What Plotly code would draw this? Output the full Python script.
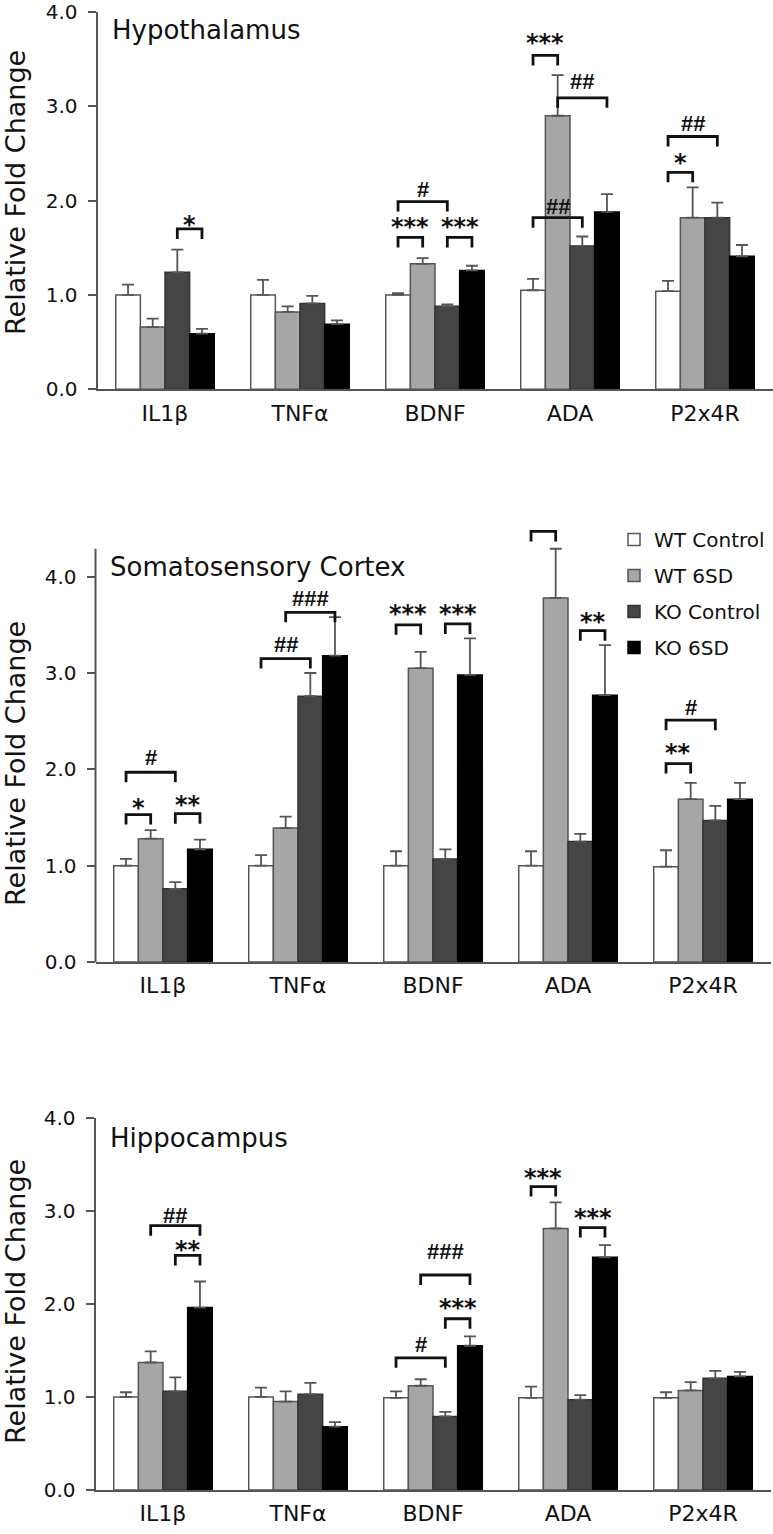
import plotly.graph_objects as go

# ---------------- data ----------------
categories = ["IL1β", "TNFα", "BDNF", "ADA", "P2x4R"]
groups = ["WT Control", "WT 6SD", "KO Control", "KO 6SD"]

# Hypothalamus
hyp_wt_ctrl = [1.00, 1.00, 1.00, 1.05, 1.04]
hyp_wt_ctrl_err = [0.11, 0.16, 0.02, 0.12, 0.11]
hyp_wt_6sd = [0.66, 0.82, 1.33, 2.90, 1.82]
hyp_wt_6sd_err = [0.09, 0.06, 0.06, 0.43, 0.32]
hyp_ko_ctrl = [1.24, 0.91, 0.88, 1.52, 1.82]
hyp_ko_ctrl_err = [0.24, 0.08, 0.02, 0.10, 0.16]
hyp_ko_6sd = [0.59, 0.69, 1.26, 1.88, 1.41]
hyp_ko_6sd_err = [0.05, 0.04, 0.05, 0.19, 0.12]

# Somatosensory Cortex
ctx_wt_ctrl = [1.00, 1.00, 1.00, 1.00, 0.99]
ctx_wt_ctrl_err = [0.07, 0.11, 0.15, 0.15, 0.17]
ctx_wt_6sd = [1.28, 1.39, 3.05, 3.78, 1.69]
ctx_wt_6sd_err = [0.09, 0.12, 0.17, 0.51, 0.17]
ctx_ko_ctrl = [0.76, 2.76, 1.07, 1.25, 1.47]
ctx_ko_ctrl_err = [0.07, 0.24, 0.10, 0.08, 0.15]
ctx_ko_6sd = [1.17, 3.18, 2.98, 2.77, 1.69]
ctx_ko_6sd_err = [0.10, 0.40, 0.38, 0.52, 0.17]

# Hippocampus
hip_wt_ctrl = [1.00, 1.00, 0.99, 0.99, 0.99]
hip_wt_ctrl_err = [0.05, 0.10, 0.07, 0.12, 0.06]
hip_wt_6sd = [1.37, 0.95, 1.12, 2.81, 1.07]
hip_wt_6sd_err = [0.12, 0.11, 0.07, 0.28, 0.09]
hip_ko_ctrl = [1.06, 1.03, 0.79, 0.97, 1.20]
hip_ko_ctrl_err = [0.15, 0.12, 0.05, 0.05, 0.08]
hip_ko_6sd = [1.96, 0.68, 1.55, 2.50, 1.22]
hip_ko_6sd_err = [0.28, 0.05, 0.10, 0.13, 0.05]

# significance brackets: (category index, bar a, bar b, bracket level, label, label level)
hyp_sig = [
    (0, 2, 3, 1.70, "*", 1.81),
    (2, 0, 1, 1.61, "***", 1.78),
    (2, 2, 3, 1.61, "***", 1.78),
    (2, 0, 2, 1.99, "#", 2.12),
    (3, 0, 1, 3.54, "***", 3.73),
    (3, 1, 3, 3.09, "##", 3.26),
    (3, 0, 2, 1.82, "##", 1.94),
    (4, 0, 1, 2.30, "*", 2.46),
    (4, 0, 2, 2.68, "##", 2.82),
]
ctx_sig = [
    (0, 0, 2, 1.97, "#", 2.12),
    (0, 0, 1, 1.53, "*", 1.66),
    (0, 2, 3, 1.54, "**", 1.69),
    (1, 0, 2, 3.15, "##", 3.30),
    (1, 1, 3, 3.63, "###", 3.77),
    (2, 0, 1, 3.50, "***", 3.68),
    (2, 2, 3, 3.51, "***", 3.68),
    (3, 0, 1, 4.47, "", 4.60),
    (3, 2, 3, 3.44, "**", 3.59),
    (4, 0, 2, 2.51, "#", 2.64),
    (4, 0, 1, 2.06, "**", 2.23),
]
hip_sig = [
    (0, 1, 3, 2.84, "##", 2.95),
    (0, 2, 3, 2.52, "**", 2.64),
    (2, 1, 3, 2.31, "###", 2.56),
    (2, 2, 3, 1.84, "***", 2.02),
    (2, 0, 2, 1.42, "#", 1.56),
    (3, 0, 1, 3.26, "***", 3.42),
    (3, 2, 3, 2.82, "***", 2.99),
]

panel_titles = ["Hypothalamus", "Somatosensory Cortex", "Hippocampus"]
y_axis_title = "Relative Fold Change"

# ---------------- styling ----------------
W, H = 773, 1534
FONT = "DejaVu Sans"
fills = ["#ffffff", "#a6a6a6", "#454545", "#000000"]
edges = ["#555555", "#555555", "#333333", "#000000"]
BARGAP = 0.27

panels = [
    dict(vals=[hyp_wt_ctrl, hyp_wt_6sd, hyp_ko_ctrl, hyp_ko_6sd],
         errs=[hyp_wt_ctrl_err, hyp_wt_6sd_err, hyp_ko_ctrl_err, hyp_ko_6sd_err],
         sig=hyp_sig, ymax=4.0, axis_top=4.0,
         xdom=(97.5, 772.5), ypx=(12.0, 389.3), title_y=3.81, ytitle_px=193),
    dict(vals=[ctx_wt_ctrl, ctx_wt_6sd, ctx_ko_ctrl, ctx_ko_6sd],
         errs=[ctx_wt_ctrl_err, ctx_wt_6sd_err, ctx_ko_ctrl_err, ctx_ko_6sd_err],
         sig=ctx_sig, ymax=4.6, axis_top=4.29,
         xdom=(95.5, 770.5), ypx=(518.9, 962.0), title_y=4.10, ytitle_px=764),
    dict(vals=[hip_wt_ctrl, hip_wt_6sd, hip_ko_ctrl, hip_ko_6sd],
         errs=[hip_wt_ctrl_err, hip_wt_6sd_err, hip_ko_ctrl_err, hip_ko_6sd_err],
         sig=hip_sig, ymax=4.0, axis_top=4.0,
         xdom=(95.5, 770.5), ypx=(1117.7, 1490.0), title_y=3.78, ytitle_px=1302),
]


def bar_x(ci, j):
    w = (1 - BARGAP) / 4
    return ci - (1 - BARGAP) / 2 + (j + 0.5) * w


fig = go.Figure()
shapes = []
annotations = []
layout = {}

for p, P in enumerate(panels):
    sfx = "" if p == 0 else str(p + 1)
    xa, ya = "x" + sfx, "y" + sfx
    for j, g in enumerate(groups):
        fig.add_trace(go.Bar(
            x=categories, y=P["vals"][j], name=g,
            xaxis=xa, yaxis=ya,
            legendgroup=g, showlegend=(p == 0),
            marker=dict(color=fills[j], line=dict(color=edges[j], width=1.5)),
            error_y=dict(type="data", symmetric=False, array=P["errs"][j],
                         arrayminus=[0] * len(categories),
                         color="#555555", thickness=1.8, width=6),
        ))
    x0d, x1d = P["xdom"][0] / W, P["xdom"][1] / W
    y0d, y1d = 1 - P["ypx"][1] / H, 1 - P["ypx"][0] / H
    ppu = (P["ypx"][1] - P["ypx"][0]) / P["ymax"]
    layout["xaxis" + sfx] = dict(
        domain=[x0d, x1d], anchor=ya, range=[-0.5, 4.5], type="category",
        showline=True, linecolor="#555555", linewidth=2, ticks="",
        showgrid=False, zeroline=False, ticklabelstandoff=3, automargin=False,
        ticklabeloverflow="allow",
        tickfont=dict(family=FONT, size=22, color="#111111"),
    )
    layout["yaxis" + sfx] = dict(
        domain=[y0d, y1d], anchor=xa, range=[0, P["ymax"]],
        showline=(P["axis_top"] == P["ymax"]), linecolor="#555555", linewidth=2,
        ticks="outside", ticklen=8, tickwidth=1.5, tickcolor="#555555",
        tickvals=[0, 1, 2, 3, 4], tickformat=".1f", ticklabelstandoff=6,
        showgrid=False, zeroline=False, automargin=False,
        ticklabeloverflow="allow",
        tickfont=dict(family=FONT, size=20, color="#111111"),
    )
    if P["axis_top"] != P["ymax"]:
        shapes.append(dict(type="line", xref=xa + " domain", yref=ya + " domain",
                           x0=0, x1=0, y0=0, y1=P["axis_top"] / P["ymax"],
                           line=dict(color="#555555", width=2)))
    # panel title
    annotations.append(dict(text=panel_titles[p], xref=xa + " domain", yref=ya,
                            x=0, y=P["title_y"], xshift=12, xanchor="left",
                            yanchor="middle", showarrow=False,
                            font=dict(family=FONT, size=26, color="#111111")))
    # y-axis title
    annotations.append(dict(text=y_axis_title, xref="paper", yref="paper",
                            x=15 / W, y=1 - P["ytitle_px"] / H, textangle=-90,
                            xanchor="center", yanchor="middle", showarrow=False,
                            font=dict(family=FONT, size=27, color="#111111")))
    # significance brackets
    tick = 10 / ppu
    for ci, a, b, lvl, lab, lab_y in P["sig"]:
        xa0, xa1 = bar_x(ci, a), bar_x(ci, b)
        shapes.append(dict(
            type="path", xref=xa, yref=ya,
            path=f"M {xa0},{lvl - tick} L {xa0},{lvl} L {xa1},{lvl} L {xa1},{lvl - tick}",
            line=dict(color="#111111", width=2.8),
        ))
        if lab:
            if lab.startswith("*"):
                txt = "<b>" + lab + "</b>"
                fnt = dict(family=FONT, size=24, color="#111111")
                ysh = -6
            else:
                txt = "<b>" + lab + "</b>"
                fnt = dict(family="Liberation Sans", size=22, color="#111111")
                ysh = 0
            annotations.append(dict(text=txt, xref=xa, yref=ya,
                                    x=(xa0 + xa1) / 2, y=lab_y, yshift=ysh,
                                    xanchor="center", yanchor="middle",
                                    showarrow=False, font=fnt))

fig.update_layout(
    width=W, height=H, autosize=False,
    margin=dict(l=0, r=0, t=0, b=0, pad=0, autoexpand=False),
    paper_bgcolor="white", plot_bgcolor="white",
    barmode="group", bargap=BARGAP, bargroupgap=0,
    shapes=shapes, annotations=annotations,
    legend=dict(x=614 / W, y=1 - 520 / H, xanchor="left", yanchor="top",
                font=dict(family=FONT, size=20, color="#111111"),
                tracegroupgap=7, bgcolor="rgba(0,0,0,0)"),
    **layout,
)

fig.write_html("out.html", config={"displayModeBar": False},
               post_script="document.body.style.margin='0';")
